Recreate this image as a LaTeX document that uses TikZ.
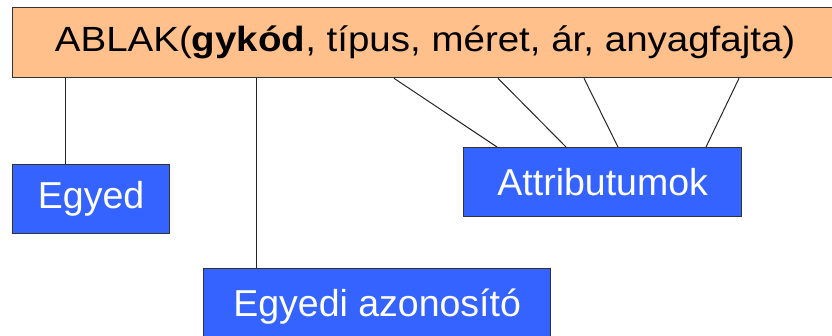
\documentclass[tikz,border=0pt]{standalone}
\usepackage{fontspec}
\setmainfont{Liberation Sans}
\definecolor{peach}{HTML}{FFC08C}
\definecolor{boxblue}{HTML}{3563FF}
\definecolor{edge}{HTML}{333333}
\begin{document}
\begin{tikzpicture}[x=1pt,y=-1pt,
  topbox/.style={draw=edge,line width=1.3pt,fill=peach,anchor=north west,inner sep=0pt,
    minimum width=825pt,minimum height=70pt,font=\fontsize{35}{40}\selectfont},
  bluebox/.style={draw=edge,line width=1.3pt,fill=boxblue,text=white,anchor=north west,inner sep=0pt,
    font=\fontsize{37.5}{42}\selectfont},
  conn/.style={draw=black!85,line width=1pt}]
\clip (0,0) rectangle (832,335);
\fill[white] (0,0) rectangle (832,335);
\node[topbox] (top) at (12,7) {\scalebox{1.1}[1]{ABLAK(\textbf{gykód}, típus, méret, ár, anyagfajta)}};
\node[bluebox,minimum width=157pt,minimum height=69pt] (egyed) at (12,164) {Egyed};
\node[bluebox,minimum width=278pt,minimum height=69pt] (attr) at (463,147) {Attributumok};
\node[bluebox,minimum width=347pt,minimum height=76pt,anchor=north west] (azon) at (203,268) {\raisebox{6pt}{Egyedi azonosító}};
\draw[conn] (top.south -| 65,0) -- (egyed.north -| 65,0);
\draw[conn] (top.south -| 256,0) -- (azon.north -| 256,0);
\draw[conn] (top.south -| 394,0) -- (attr.north -| 497,0);
\draw[conn] (top.south -| 498,0) -- (attr.north -| 566,0);
\draw[conn] (top.south -| 584,0) -- (attr.north -| 618,0);
\draw[conn] (top.south -| 739,0) -- (attr.north -| 706,0);
\end{tikzpicture}
\end{document}
